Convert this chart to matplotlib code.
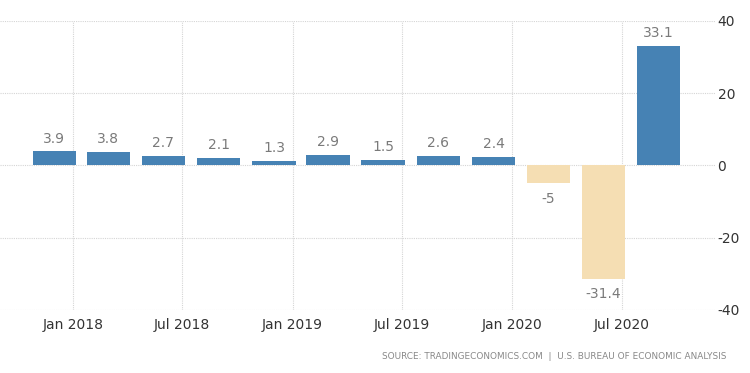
import matplotlib
matplotlib.use("Agg")
import matplotlib.pyplot as plt
import matplotlib.dates as mdates
import numpy as np
import datetime as dt

# Quarter-end dates (period end) and annualized GDP growth values
quarter_ends = ["2017-12-31", "2018-03-31", "2018-06-30", "2018-09-30",
                "2018-12-31", "2019-03-31", "2019-06-30", "2019-09-30",
                "2019-12-31", "2020-03-31", "2020-06-30", "2020-09-30"]
values = [3.9, 3.8, 2.7, 2.1, 1.3, 2.9, 1.5, 2.6, 2.4, -5, -31.4, 33.1]
tick_dates = ["2018-01-01", "2018-07-01", "2019-01-01", "2019-07-01",
              "2020-01-01", "2020-07-01"]
tick_labels = ["Jan 2018", "Jul 2018", "Jan 2019", "Jul 2019", "Jan 2020", "Jul 2020"]
y_ticks = [-40, -20, 0, 20, 40]

plt.rcParams['font.family'] = ['DejaVu Sans']

fig = plt.figure(figsize=(7.5, 3.73), dpi=100)
ax = fig.add_axes([0.0, 0.169, 0.953, 0.775])

x = [mdates.date2num(dt.datetime.fromisoformat(d)) + 6 for d in quarter_ends]
colors = ["#4682B4" if v >= 0 else "#F5DEB3" for v in values]
ax.bar(x, values, width=-72, align="edge", color=colors, zorder=3)

for xi, v in zip(x, values):
    xc = xi - 36
    if v >= 0:
        ax.annotate(f"{v:g}", (xc, v), xytext=(0, 4), textcoords="offset points",
                    ha="center", va="bottom", fontsize=10, color="#7a7a7a")
    else:
        ax.annotate(f"{v:g}", (xc, v), xytext=(0, -6), textcoords="offset points",
                    ha="center", va="top", fontsize=10, color="#7a7a7a")

ax.set_ylim(-40, 40)
ax.set_xlim(mdates.date2num(dt.datetime(2017, 9, 2)), mdates.date2num(dt.datetime(2020, 12, 2)))
ax.set_yticks(y_ticks)
ax.set_yticklabels([f"{t}" for t in y_ticks])
ax.yaxis.tick_right()
ax.set_xticks([mdates.date2num(dt.datetime.fromisoformat(d)) for d in tick_dates])
ax.set_xticklabels(tick_labels)
ax.tick_params(axis="both", length=0, labelsize=10, colors="#333333")
ax.tick_params(axis="y", pad=2)
ax.tick_params(axis="x", pad=6)
ax.grid(True, color="#d5d5d5", linestyle=(0, (1, 1)), linewidth=0.8, zorder=0)
for s in ax.spines.values():
    s.set_visible(False)

fig.text(0.968, 0.043, "SOURCE: TRADINGECONOMICS.COM  |  U.S. BUREAU OF ECONOMIC ANALYSIS",
         ha="right", va="center", fontsize=6.4, color="#888888")

fig.savefig("out.png", dpi=100)
